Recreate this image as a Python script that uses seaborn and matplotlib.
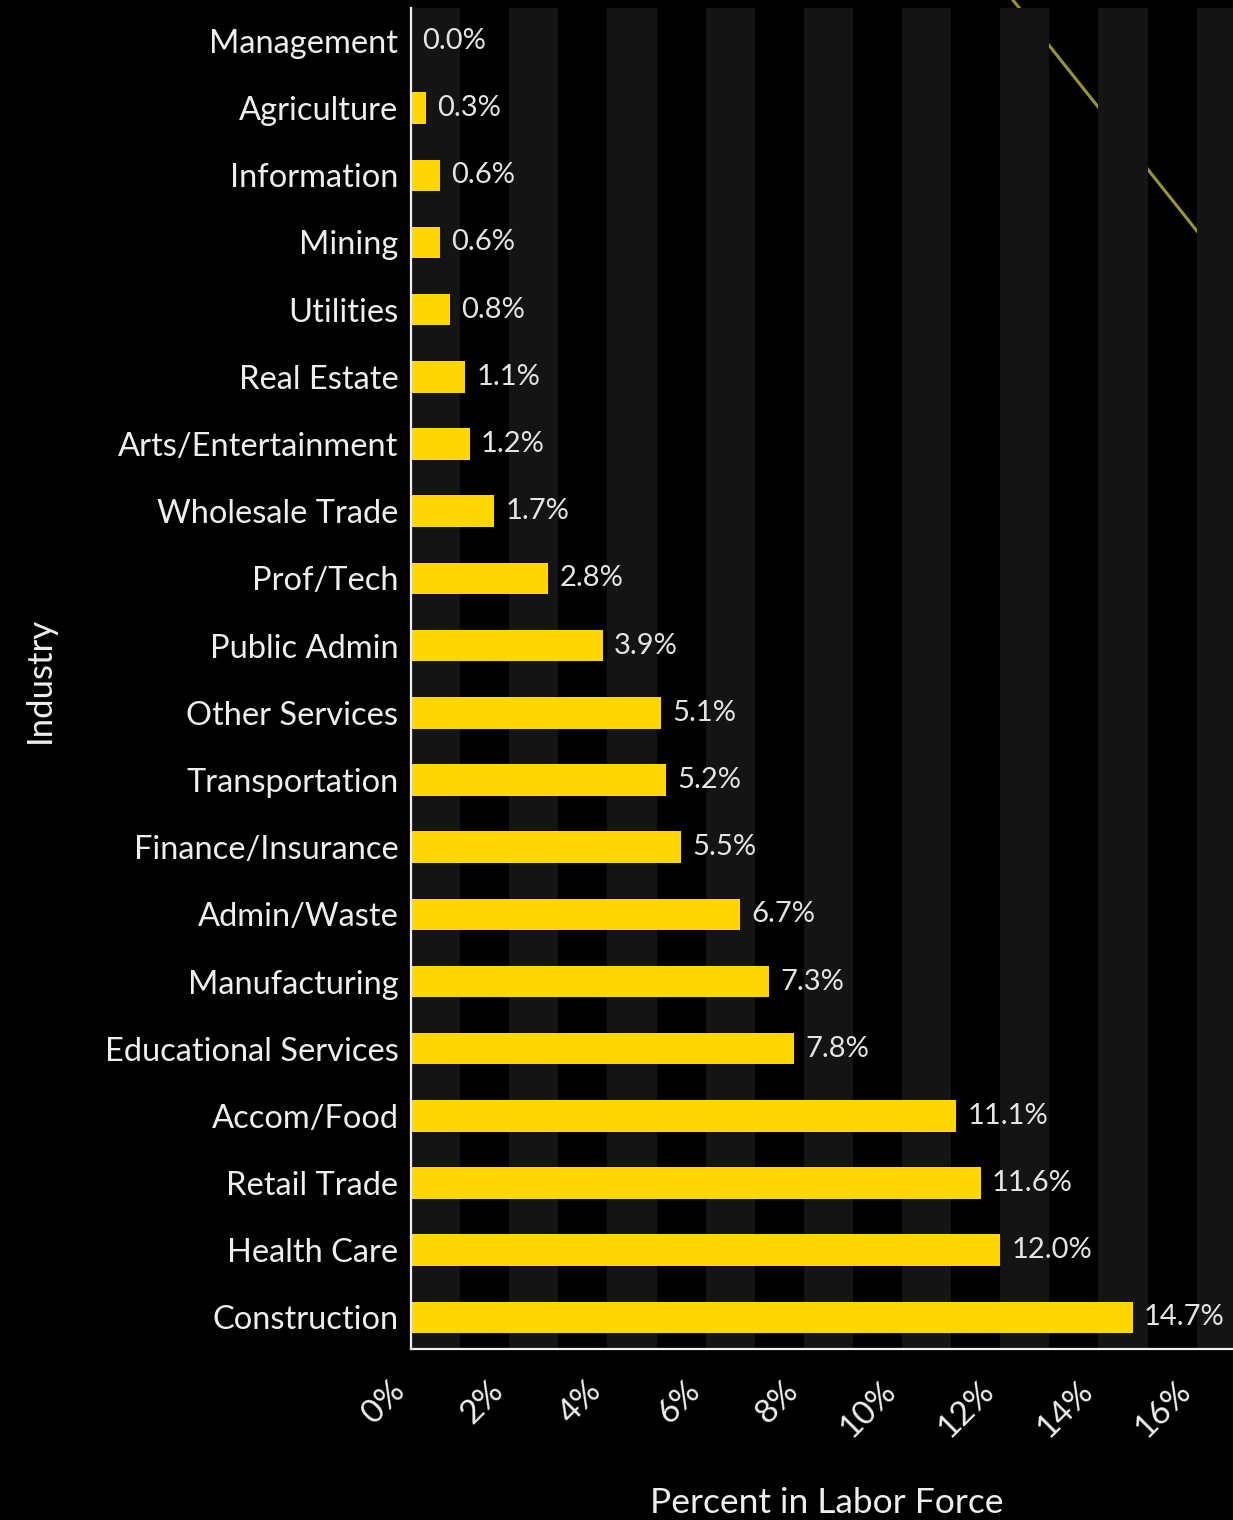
import matplotlib
matplotlib.use("Agg")
import matplotlib.pyplot as plt
import seaborn as sns
import pandas as pd

industries = ["Management", "Agriculture", "Information", "Mining", "Utilities",
              "Real Estate", "Arts/Entertainment", "Wholesale Trade", "Prof/Tech",
              "Public Admin", "Other Services", "Transportation", "Finance/Insurance",
              "Admin/Waste", "Manufacturing", "Educational Services", "Accom/Food",
              "Retail Trade", "Health Care", "Construction"]
percent = [0.0, 0.3, 0.6, 0.6, 0.8, 1.1, 1.2, 1.7, 2.8, 3.9, 5.1, 5.2, 5.5,
           6.7, 7.3, 7.8, 11.1, 11.6, 12.0, 14.7]
xticks = [0, 2, 4, 6, 8, 10, 12, 14, 16]
xtick_labels = ["0%", "2%", "4%", "6%", "8%", "10%", "12%", "14%", "16%"]
stripe_starts = [0, 2, 4, 6, 8, 10, 12, 14, 16]
trend_x = [12.05, 16.3]
trend_y = [-0.80, 3.10]

sns.set_theme(style="dark")
plt.rcParams['font.family'] = ['Lato', 'DejaVu Sans']

df = pd.DataFrame({"Industry": industries, "Percent": percent})

fig = plt.figure(figsize=(12.33, 15.2), dpi=100, facecolor="black")
W, H = 1233, 1520
ax = fig.add_axes([411 / W, (H - 1349) / H, (W - 411) / W, (1349 - 8) / H])
ax.set_facecolor("black")

sns.barplot(data=df, x="Percent", y="Industry", orient="h", color="#FFD700",
            saturation=1, width=0.47, ax=ax, zorder=3, linewidth=0,
            edgecolor="none")

for s in stripe_starts:
    ax.axvspan(s, s + 1, color="#141414", zorder=1, lw=0)

ax.plot(trend_x, trend_y, color="#9c9528", lw=2.2, zorder=0.5, clip_on=False,
        solid_capstyle="butt")

ax.set_xlim(0, 16.74)
ax.set_ylim(19.47, -0.49)

labels = [f"{v:.1f}%" for v in percent]
ax.bar_label(ax.containers[0], labels=labels, padding=8, color="#e4e4e4",
             fontsize=21)

ax.set_xticks(xticks)
ax.set_xticklabels(xtick_labels, rotation=45, ha="right")
ax.tick_params(axis="x", length=0, pad=19, labelsize=24, labelcolor="#eeeeee")
ax.tick_params(axis="y", length=0, pad=9, labelsize=23.5, labelcolor="#eeeeee")
ax.grid(False)

for side in ["top", "right"]:
    ax.spines[side].set_visible(False)
for side in ["left", "bottom"]:
    ax.spines[side].set_visible(True)
    ax.spines[side].set_color("#f0f0f0")
    ax.spines[side].set_linewidth(1.6)
    ax.spines[side].set_zorder(4)

ax.set_xlabel("Percent in Labor Force", fontsize=25.5, color="#eeeeee")
ax.set_ylabel("Industry", fontsize=25, color="#eeeeee")
ax.yaxis.set_label_coords(40 / W, (H - 680) / H, transform=fig.transFigure)
ax.xaxis.set_label_coords(827 / W, (H - 1503) / H, transform=fig.transFigure)
ax.xaxis.label.set_va("center")
ax.yaxis.label.set_va("center")

fig.savefig("out.png", dpi=100, facecolor="black")
